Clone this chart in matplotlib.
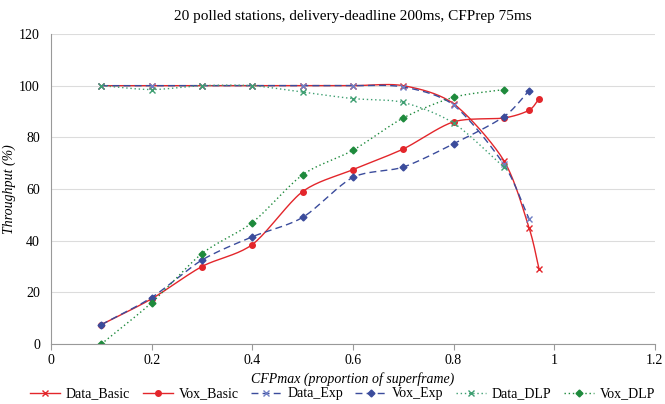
import numpy as np
import matplotlib
matplotlib.use("Agg")
import matplotlib.pyplot as plt

x_all = [0.1, 0.2, 0.3, 0.4, 0.5, 0.6, 0.7, 0.8, 0.9, 0.95, 0.97]
data_basic = [100, 100, 100, 100, 100, 100, 100, 93, 71, 45, 29]
vox_basic = [7.5, 17.5, 30, 38.5, 59, 67.5, 75.5, 86, 87.5, 90.5, 95]
x_exp = [0.1, 0.2, 0.3, 0.4, 0.5, 0.6, 0.7, 0.8, 0.9, 0.95]
data_exp = [100, 100, 100, 100, 100, 100, 99.5, 92.5, 69.5, 48.5]
vox_exp = [7.5, 18, 32.5, 41.5, 49, 64.5, 68.5, 77.5, 88, 98]
x_dlp = [0.1, 0.2, 0.3, 0.4, 0.5, 0.6, 0.7, 0.8, 0.9]
data_dlp = [100, 98.5, 100, 100, 97.5, 95, 93.5, 85.5, 68.5]
vox_dlp = [0, 16, 35, 47, 65.5, 75, 87.5, 95.5, 98.5]

plt.rcParams['font.family'] = ['Liberation Serif', 'DejaVu Serif']

def smooth(x, y, n=20):
    # Catmull-Rom style smoothing of the drawn path (like Excel smoothed lines)
    x = np.asarray(x, float); y = np.asarray(y, float)
    P = np.column_stack([x, y])
    P = np.vstack([P[0] - (P[1] - P[0]), P, P[-1] + (P[-1] - P[-2])])
    out = []
    for i in range(1, len(P) - 2):
        p0, p1, p2, p3 = P[i-1], P[i], P[i+1], P[i+2]
        t = np.linspace(0, 1, n, endpoint=False)[:, None]
        m1 = (p2 - p0) / 2 * 0.85
        m2 = (p3 - p1) / 2 * 0.85
        h00 = 2*t**3 - 3*t**2 + 1; h10 = t**3 - 2*t**2 + t
        h01 = -2*t**3 + 3*t**2; h11 = t**3 - t**2
        out.append(h00*p1 + h10*m1 + h01*p2 + h11*m2)
    out.append(P[-2][None, :])
    o = np.vstack(out)
    return o[:, 0], o[:, 1]

fig = plt.figure(figsize=(6.65, 4.04), dpi=100)
ax = fig.add_axes([0.0767, 0.1485, 0.908, 0.7673])

red = '#e3262b'
blue = '#3b4c9c'
lblue = '#6f7fc4'
green = '#1e8a3c'
lgreen = '#3f9f72'

series = [
    (x_all, data_basic, red, '-', 'x', red, 'Data_Basic'),
    (x_all, vox_basic, red, '-', 'o', red, 'Vox_Basic'),
    (x_exp, data_exp, blue, (0, (5, 3)), 'x', lblue, 'Data_Exp'),
    (x_exp, vox_exp, blue, (0, (5, 3)), 'D', blue, 'Vox_Exp'),
    (x_dlp, data_dlp, lgreen, (0, (1, 2)), 'x', lgreen, 'Data_DLP'),
    (x_dlp, vox_dlp, green, (0, (1, 2)), 'D', green, 'Vox_DLP'),
]
for xs, ys, c, ls, mk, mc, lab in series:
    sx, sy = smooth(xs, ys)
    ax.plot(sx, sy, color=c, ls=ls, lw=1.0)
    ms = 4 if mk == 'o' else (3.5 if mk == 'D' else 5)
    ax.plot(xs, ys, ls='none', marker=mk, color=mc, ms=ms, mew=1.0)
    ax.plot([], [], color=c, ls=ls, lw=1.0, marker=mk, mfc=mc, mec=mc, ms=ms, label=lab)

ax.set_xlim(0, 1.2)
ax.set_ylim(0, 120)
ax.set_xticks([0, 0.2, 0.4, 0.6, 0.8, 1, 1.2])
ax.set_xticklabels(['0', '0.2', '0.4', '0.6', '0.8', '1', '1.2'])
ax.set_yticks(range(0, 121, 20))
ax.yaxis.grid(True, color='#dcdcdc', lw=0.8)
ax.set_axisbelow(True)
for s in ['top', 'right']:
    ax.spines[s].set_visible(False)
for s in ['left', 'bottom']:
    ax.spines[s].set_color('#999999')
ax.tick_params(axis='x', direction='out', length=4, color='#999999', labelsize=10)
ax.tick_params(axis='y', length=0, labelsize=10, pad=8)
ax.set_title('20 polled stations, delivery-deadline 200ms, CFPrep 75ms', fontsize=11, pad=10)
ax.set_ylabel('Throughput (%)', style='italic', fontsize=10)
ax.yaxis.set_label_coords(-0.058, 0.5)
ax.set_xlabel('CFPmax (proportion of superframe)', style='italic', fontsize=10, labelpad=3)

fig.legend(loc='lower center', bbox_to_anchor=(0.515, -0.022), ncol=6, frameon=False,
           fontsize=10, handlelength=2.2, columnspacing=0.9, handletextpad=0.4)

fig.savefig('out.png', dpi=100)
